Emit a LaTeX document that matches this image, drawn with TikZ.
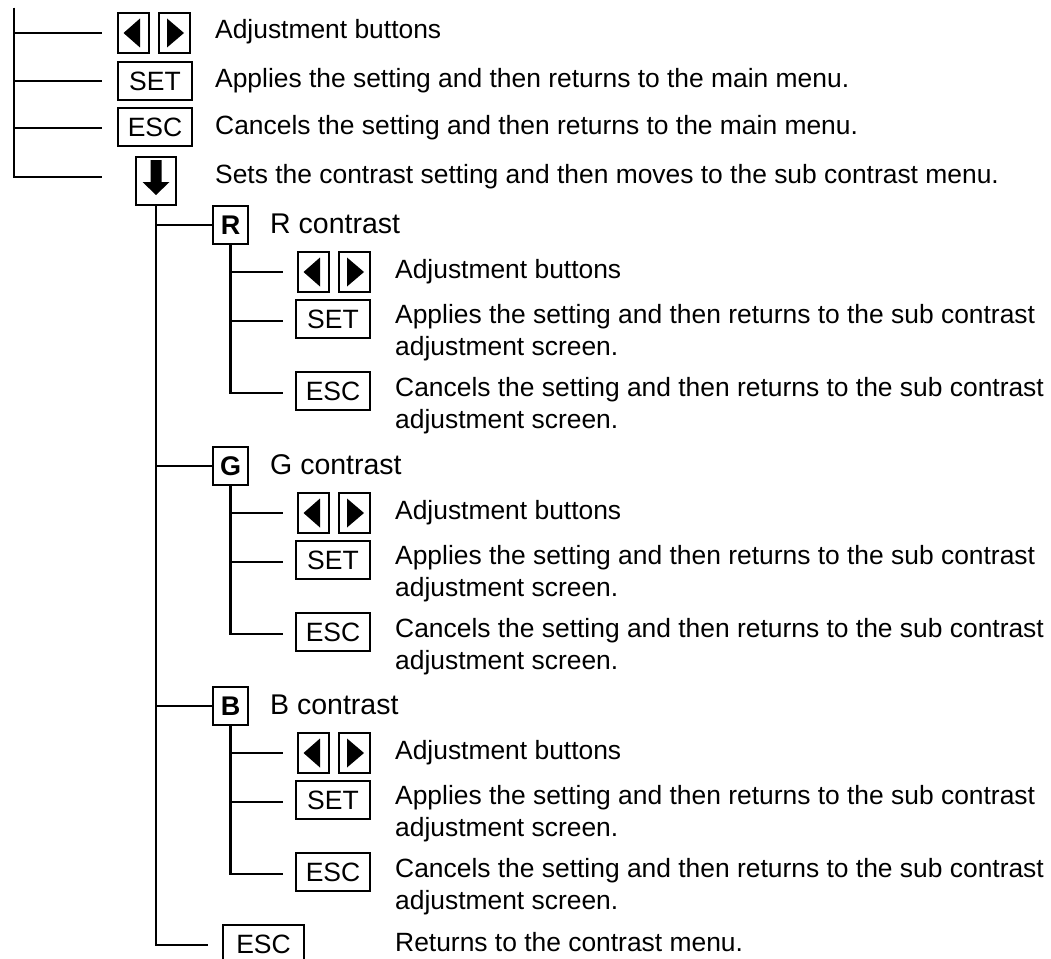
\documentclass[tikz,border=0pt]{standalone}
\usepackage{fontspec}
\setmainfont{Liberation Sans}
\usepackage{tikz}
\usetikzlibrary{positioning}

\tikzset{
  branch/.style={line width=2.4pt},
  key/.style={draw, line width=1.8pt, inner sep=0pt, minimum width=74pt, minimum height=38pt,
    font=\fontsize{26.5}{32}\selectfont},
  lkey/.style={key, minimum width=31pt, minimum height=40pt,
    path picture={\fill ([shift={(-10,0)}]path picture bounding box.center)
      -- ([shift={(6.5,-14.5)}]path picture bounding box.center)
      -- ([shift={(6.5,14.5)}]path picture bounding box.center) -- cycle;}},
  rkey/.style={key, minimum width=31pt, minimum height=40pt,
    path picture={\fill ([shift={(9.5,0)}]path picture bounding box.center)
      -- ([shift={(-7.5,-14.5)}]path picture bounding box.center)
      -- ([shift={(-7.5,14.5)}]path picture bounding box.center) -- cycle;}},
  dkey/.style={key, minimum width=40pt, minimum height=48pt,
    path picture={\fill ([shift={(-5.5,-21)}]path picture bounding box.center)
      -- ([shift={(5.5,-21)}]path picture bounding box.center)
      -- ([shift={(5.5,1)}]path picture bounding box.center)
      -- ([shift={(13.5,1)}]path picture bounding box.center)
      -- ([shift={(0,14)}]path picture bounding box.center)
      -- ([shift={(-13.5,1)}]path picture bounding box.center)
      -- ([shift={(-5.5,1)}]path picture bounding box.center) -- cycle;}},
  hkey/.style={key, minimum width=35pt, minimum height=38pt,
    font=\fontsize{27}{32}\selectfont\bfseries},
  txt/.style={anchor=base west, inner sep=0pt, align=left,
    font=\fontsize{26.4}{32}\selectfont},
  htxt/.style={anchor=base west, inner sep=0pt, font=\fontsize{28.5}{34}\selectfont}
}

\begin{document}
\begin{tikzpicture}[x=1pt,y=-1pt]
  \useasboundingbox (0,0) rectangle (1051,958);
  \draw (14,8) coordinate (top);
  \draw (133.5,33) node (lft) [lkey] {};
  \draw (174.5,33) node (rgt) [rkey] {};
  \draw (155,81) node (set) [key] {SET};
  \draw (155,127) node (esc) [key] {ESC};
  \draw (156,181) node (down) [dkey] {};
  \draw (215,39) node (adjtxt) [txt] {Adjustment buttons};
  \draw (215,87) node (settxt) [txt] {Applies the setting and then returns to the main menu.};
  \draw (215,134) node (esctxt) [txt] {Cancels the setting and then returns to the main menu.};
  \draw (215,183) node (downtxt) [txt] {Sets the contrast setting and then moves to the sub contrast menu.};
  \coordinate (b1) at (102,33);
  \coordinate (b2) at (102,81);
  \coordinate (b3) at (102,128);
  \coordinate (b4) at (102,177);
  \draw[branch] (top) |- (b1);
  \draw[branch] (top) |- (b2);
  \draw[branch] (top) |- (b3);
  \draw[branch] (top) |- (b4);
  \foreach \l/\y in {R/225,G/466,B/706}{
    \draw (230.5,\y) node (\l) [hkey] {\l};
    \draw (270,\y+8) node (head\l) [htxt] {\l\ contrast};
    \draw[branch] (down.south |- \l.west) -- (\l.west);
    \draw (313.5,\y+47) node (lft\l) [lkey] {};
    \draw (354.5,\y+47) node (rgt\l) [rkey] {};
    \draw (333,\y+94) node (set\l) [key] {SET};
    \draw (333,\y+166) node (esc\l) [key] {ESC};
    \draw (395,\y+53) node (adjtxt\l) [txt] {Adjustment buttons};
    \draw (395,\y+130) node (settxt\l) [txt] {Applies the setting and then returns to the sub contrast\\adjustment screen.};
    \draw (395,\y+203) node (esctxt\l) [txt] {Cancels the setting and then returns to the sub contrast\\adjustment screen.};
    \coordinate (a\l) at (283,\y+47);
    \coordinate (s\l) at (283,\y+96);
    \coordinate (e\l) at (283,\y+168);
    \draw[branch] (\l.south) |- (a\l);
    \draw[branch] (\l.south) |- (s\l);
    \draw[branch] (\l.south) |- (e\l);
  }
  \draw (263.5,944) node (escend) [key, minimum width=81pt] {ESC};
  \draw (395,951) node (endtxt) [txt] {Returns to the contrast menu.};
  \coordinate (endl) at (208,945);
  \draw[branch] (down.south) |- (endl);
\end{tikzpicture}
\end{document}
